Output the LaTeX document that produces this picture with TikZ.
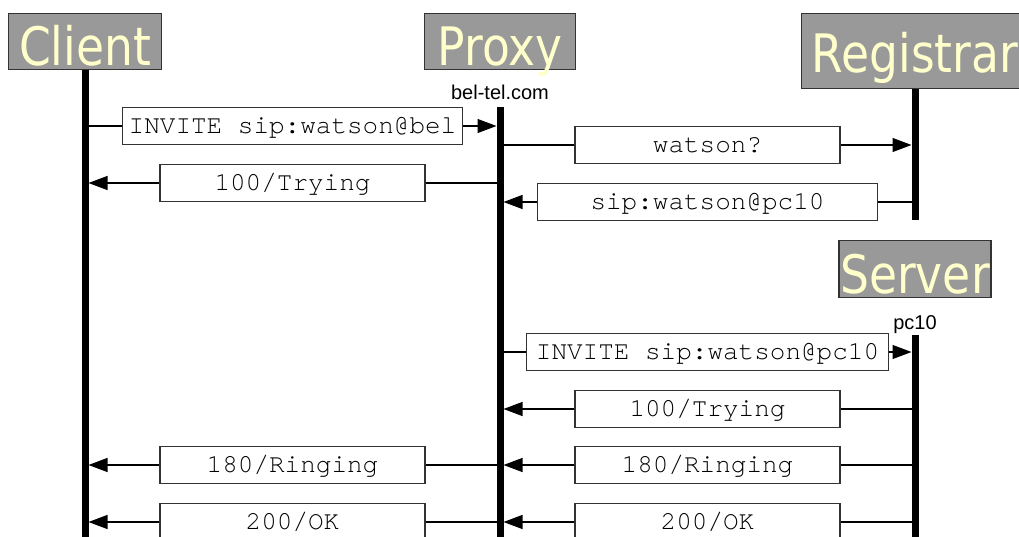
\documentclass[tikz,border=0pt]{standalone}
\usepackage{fontspec}
\setmainfont{Liberation Sans}
\setmonofont{TeX Gyre Cursor}
\newfontfamily\titlefont[FakeStretch=0.86]{DejaVu Sans}
\usepackage{tikz}
\usetikzlibrary{arrows.meta}
\definecolor{boxgray}{HTML}{999999}
\definecolor{titletext}{HTML}{FFFFCC}
\definecolor{edgegray}{HTML}{333333}

\begin{document}
\begin{tikzpicture}[x=1pt, y=-1pt, >={Triangle[length=19pt,width=14pt]}]
    \tikzstyle{entity} = [draw=edgegray, line width=1.2pt, fill=boxgray,
	text=titletext, font=\titlefont\fontsize{53}{53}\selectfont, anchor=north,
	inner xsep=1pt, inner ysep=4pt, text height=48pt, text depth=0pt]
    \tikzstyle{addr} = [font=\fontsize{20}{20}\selectfont, inner sep=0pt, anchor=base]
    \tikzstyle{lifeline} = [line width=7pt]
    \tikzstyle{msg} = [->, draw=black, line width=1.1pt, shorten >=3.5pt]
    \tikzstyle{msgbox} = [draw=edgegray, line width=1.2pt, fill=white,
	font=\ttfamily\fontsize{26}{26}\selectfont, minimum width=265pt,
	text height=18pt, text depth=3pt, inner xsep=0pt, inner ysep=8pt]

	\clip (0,0) rectangle (1019,537);

	% entities
	\node[entity, minimum width=153pt] (client) at (85,13) {Client};
	\node[entity, minimum width=151pt] (proxy) at (500,13) {Proxy};
	\node[entity, minimum width=227pt, text height=55pt, text depth=12pt]
		(registrar) at (915,13) {Registrar};
	\node[entity, minimum width=152pt, text height=49pt] (server) at (915,240) {Server};

	\node[addr] (proxyaddr) at (500,100) {bel-tel.com};
	\node[addr] (serveraddr) at (915,329) {pc10};

	\coordinate (bottom) at (0,545);
	\coordinate (regend) at (915,220);

	% messages
	\draw[msg] (client |- 0,126) -- node[msgbox, minimum width=340pt] (m1)
		{INVITE sip:watson@bel} (proxy |- 0,126);
	\draw[msg] (proxy |- 0,145) -- node[msgbox] (m2) {watson?} (registrar |- 0,145);
	\draw[msg] (proxy |- 0,183) -- node[msgbox] (m3) {100/Trying} (client |- 0,183);
	\draw[msg] (registrar |- 0,202) -- node[msgbox, minimum width=340pt] (m4)
		{sip:watson@pc10} (proxy |- 0,202);

	\draw[msg] (proxy |- 0,352) -- node[msgbox, minimum width=362pt] (m5)
		{INVITE sip:watson@pc10} (server |- 0,352);
	\draw[msg] (server |- 0,409) -- node[msgbox] (m6) {100/Trying} (proxy |- 0,409);
	\draw[msg] (server |- 0,465) -- node[msgbox] (m7) {180/Ringing} (proxy |- 0,465);
	\draw[msg] (proxy |- 0,465) -- node[msgbox] (m8) {180/Ringing} (client |- 0,465);
	\draw[msg] (server |- 0,522) -- node[msgbox] (m9) {200/OK} (proxy |- 0,522);
	\draw[msg] (proxy |- 0,522) -- node[msgbox] (m10) {200/OK} (client |- 0,522);

	% lifelines
	\draw[lifeline] (client.south) -- (client |- bottom);
	\draw[lifeline] (proxyaddr.south) ++(0,7) -- (proxyaddr |- bottom);
	\draw[lifeline] (registrar.south) -- (regend);
	\draw[lifeline] (serveraddr.south) ++(0,2) -- (serveraddr |- bottom);
\end{tikzpicture}
\end{document}
